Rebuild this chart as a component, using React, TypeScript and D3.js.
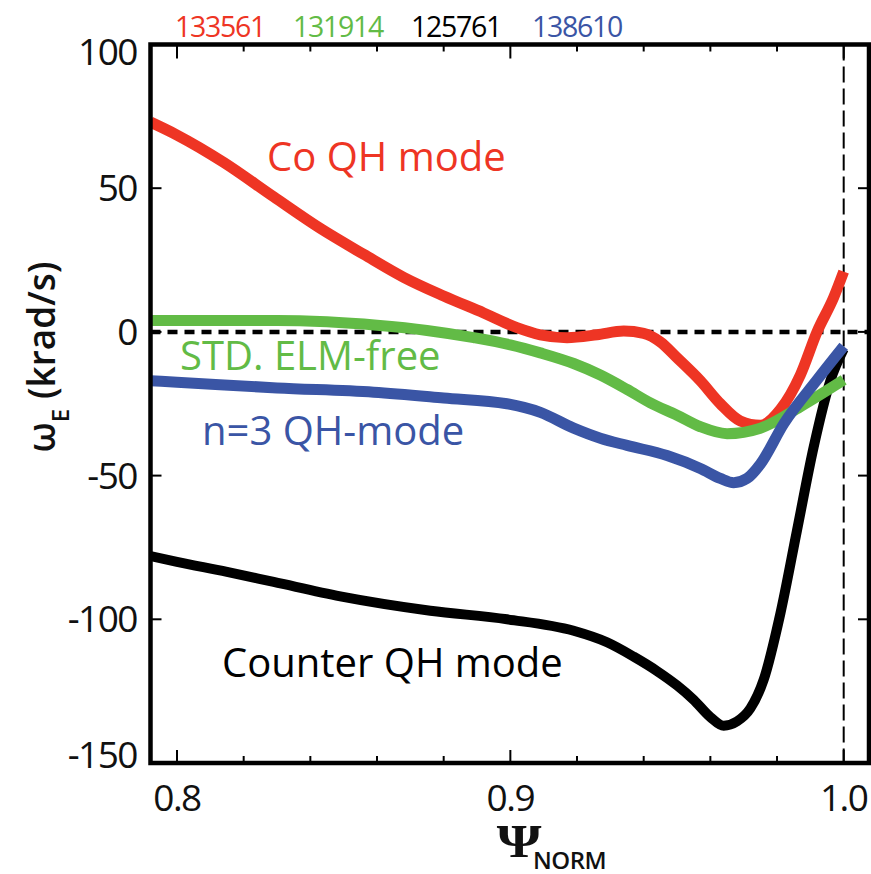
import React from 'react';
import * as d3 from 'd3';

// Radial profiles of the E×B rotation frequency near the plasma edge
const psiDomain = [0.79205, 1.00759];
const omegaDomain = [-150, 100];

const xMajorTicks = [0.8, 0.9, 1.0];
const xTickLabels = ['0.8', '0.9', '1.0'];
const xMinorTicks = [0.82, 0.84, 0.86, 0.88, 0.92, 0.94, 0.96, 0.98];
const yTicks = [100, 50, 0, -50, -100, -150];
const yTickLabels = ['100', '50', '0', '-50', '-100', '-150'];

const shotNumbers = ['133561', '131914', '125761', '138610'];

// Co QH mode (shot 133561)
const coPsi = [0.79205, 0.8, 0.814, 0.829, 0.843, 0.856, 0.868, 0.88, 0.892, 0.902, 0.909, 0.917, 0.926, 0.934, 0.94, 0.945, 0.95, 0.957, 0.963, 0.969, 0.975, 0.981, 0.987, 0.992, 0.997, 1.0];
const coOmega = [73, 68.5, 59, 47, 36, 27, 19, 12.5, 6.6, 1.5, -1, -2, -1, 0.3, -0.5, -3.5, -9, -17, -25, -31, -32.5, -27, -15, 0, 12, 21];

// Standard ELM-free (shot 131914)
const elmPsi = [0.79205, 0.8, 0.815, 0.83, 0.845, 0.86, 0.875, 0.889, 0.9, 0.909, 0.919, 0.927, 0.935, 0.942, 0.95, 0.957, 0.965, 0.975, 0.987, 1.0];
const elmOmega = [4, 4, 4, 4, 3.5, 2.3, 0.5, -2, -4.5, -7.3, -11, -15, -20, -24.7, -29, -33, -35.4, -33.5, -26, -16.7];

// Counter QH mode (shot 125761)
const ctrPsi = [0.79205, 0.8, 0.815, 0.829, 0.849, 0.876, 0.899, 0.919, 0.929, 0.937, 0.944, 0.95, 0.955, 0.96, 0.964, 0.968, 0.972, 0.976, 0.981, 0.986, 0.991, 0.996, 1.0];
const ctrOmega = [-78, -80, -83.5, -87, -92, -97, -100, -104, -108, -113, -118, -123, -128, -134, -137, -135.5, -131, -121, -98, -69, -40, -17, -6];

// n=3 QH mode (shot 138610)
const n3Psi = [0.79205, 0.8, 0.83, 0.859, 0.88, 0.899, 0.909, 0.919, 0.927, 0.935, 0.947, 0.957, 0.963, 0.967, 0.971, 0.975, 0.982, 0.992, 1.0];
const n3Omega = [-17, -17.5, -19.5, -21, -23, -25, -28, -33.5, -37, -39.5, -43, -47.5, -51, -52.5, -51, -46, -32, -16.7, -5];

const RED = '#ee3524';
const GREEN = '#62bb46';
const BLUE = '#3a55a5';
const BLACK = '#000000';

const W = 871;
const H = 874;
const M = { left: 150.5, right: 869, top: 44.5, bottom: 763 };
const SANS = '"Open Sans", "Noto Sans", sans-serif';

export default function App() {
  const x = d3.scaleLinear().domain(psiDomain).range([M.left, M.right]);
  const y = d3.scaleLinear().domain(omegaDomain).range([M.bottom, M.top]);

  const line = d3
    .line<[number, number]>()
    .x((d) => x(d[0]))
    .y((d) => y(d[1]))
    .curve(d3.curveMonotoneX);

  const series = [
    { psi: ctrPsi, omega: ctrOmega, color: BLACK, width: 10 },
    { psi: coPsi, omega: coOmega, color: RED, width: 11 },
    { psi: elmPsi, omega: elmOmega, color: GREEN, width: 11 },
    { psi: n3Psi, omega: n3Omega, color: BLUE, width: 11 },
  ];

  const shotColors = [RED, GREEN, BLACK, BLUE];
  const shotX = [175, 293, 411, 532];

  const annotations = [
    { text: 'Co QH mode', psi: 0.827, omega: 56, color: RED },
    { text: 'STD. ELM-free', psi: 0.8009, omega: -13.3, color: GREEN },
    { text: 'n=3 QH-mode', psi: 0.8075, omega: -39.3, color: BLUE },
    { text: 'Counter QH mode', psi: 0.8135, omega: -120, color: BLACK },
  ];

  const yLabelShift = (v: number) => (v === 100 ? 7 : v === -150 ? -8 : 0);

  return (
    <svg
      width={W}
      height={H}
      style={{ position: 'absolute', left: 0, top: 0, background: '#fff' }}
      fontFamily={SANS}
    >
      <defs>
        <clipPath id="plot-area">
          <rect x={M.left} y={M.top} width={M.right - M.left} height={M.bottom - M.top} />
        </clipPath>
      </defs>

      {/* zero reference and separatrix markers */}
      <line
        x1={M.left}
        x2={M.right}
        y1={y(0)}
        y2={y(0)}
        stroke="#000"
        strokeWidth={4.5}
        strokeDasharray="10,7"
      />
      <line
        x1={x(1.0)}
        x2={x(1.0)}
        y1={M.top}
        y2={M.bottom}
        stroke="#000"
        strokeWidth={2}
        strokeDasharray="16,6"
      />

      {/* profiles */}
      <g clipPath="url(#plot-area)">
        {series.map((s, i) => (
          <path
            key={i}
            d={line(s.psi.map((p, j) => [p, s.omega[j]] as [number, number])) || ''}
            fill="none"
            stroke={s.color}
            strokeWidth={s.width}
            strokeLinejoin="round"
            strokeLinecap="butt"
          />
        ))}
      </g>

      {/* ticks */}
      {xMajorTicks.map((t) => (
        <g key={'xM' + t}>
          <line x1={x(t)} x2={x(t)} y1={M.bottom} y2={M.bottom - 13} stroke="#000" strokeWidth={2} />
          <line x1={x(t)} x2={x(t)} y1={M.top} y2={M.top + 14} stroke="#000" strokeWidth={2} />
        </g>
      ))}
      {xMinorTicks.map((t) => (
        <g key={'xm' + t}>
          <line x1={x(t)} x2={x(t)} y1={M.bottom} y2={M.bottom - 7} stroke="#000" strokeWidth={2} />
          <line x1={x(t)} x2={x(t)} y1={M.top} y2={M.top + 7} stroke="#000" strokeWidth={2} />
        </g>
      ))}
      {yTicks.map((t) => (
        <g key={'y' + t}>
          <line x1={M.left} x2={M.left + 11} y1={y(t)} y2={y(t)} stroke="#000" strokeWidth={2} />
          <line x1={M.right} x2={M.right - 11} y1={y(t)} y2={y(t)} stroke="#000" strokeWidth={2} />
        </g>
      ))}

      {/* frame */}
      <rect
        x={M.left}
        y={M.top}
        width={M.right - M.left}
        height={M.bottom - M.top}
        fill="none"
        stroke="#000"
        strokeWidth={4.5}
      />

      {/* tick labels */}
      {yTicks.map((t, i) => (
        <text
          key={'yl' + t}
          x={137}
          y={y(t) + 13 + yLabelShift(t)}
          textAnchor="end"
          fontSize={37}
          letterSpacing={-1.5}
          fill="#111"
        >
          {yTickLabels[i]}
        </text>
      ))}
      {xMajorTicks.map((t, i) => (
        <text
          key={'xl' + t}
          x={x(t)}
          y={811}
          textAnchor="middle"
          fontSize={37}
          letterSpacing={-1.5}
          fill="#111"
        >
          {xTickLabels[i]}
        </text>
      ))}

      {/* shot numbers */}
      {shotNumbers.map((s, i) => (
        <text key={s} x={shotX[i]} y={37} fontSize={28.5} letterSpacing={-1.3} fill={shotColors[i]}>
          {s}
        </text>
      ))}

      {/* curve annotations */}
      {annotations.map((a) => (
        <text key={a.text} x={x(a.psi)} y={y(a.omega)} fontSize={40} fill={a.color}>
          {a.text}
        </text>
      ))}

      {/* axis titles */}
      <text
        transform="translate(55,357) rotate(-90)"
        textAnchor="middle"
        fontSize={37}
        fontWeight={600}
        fill="#111"
      >
        ω
        <tspan fontSize={24} dy={14}>E</tspan>
        <tspan dy={-14}> (krad/s)</tspan>
      </text>
      <g transform="translate(519,857) scale(1.22,1)">
        <text x={0} y={0} textAnchor="middle" fontFamily='"Liberation Serif", "DejaVu Serif", serif' fontSize={47} fontWeight={700} fill="#111">
          Ψ
        </text>
      </g>
      <text x={533} y={869} fontSize={24} fontWeight={600} letterSpacing={-0.5} fill="#111">
        NORM
      </text>
    </svg>
  );
}
